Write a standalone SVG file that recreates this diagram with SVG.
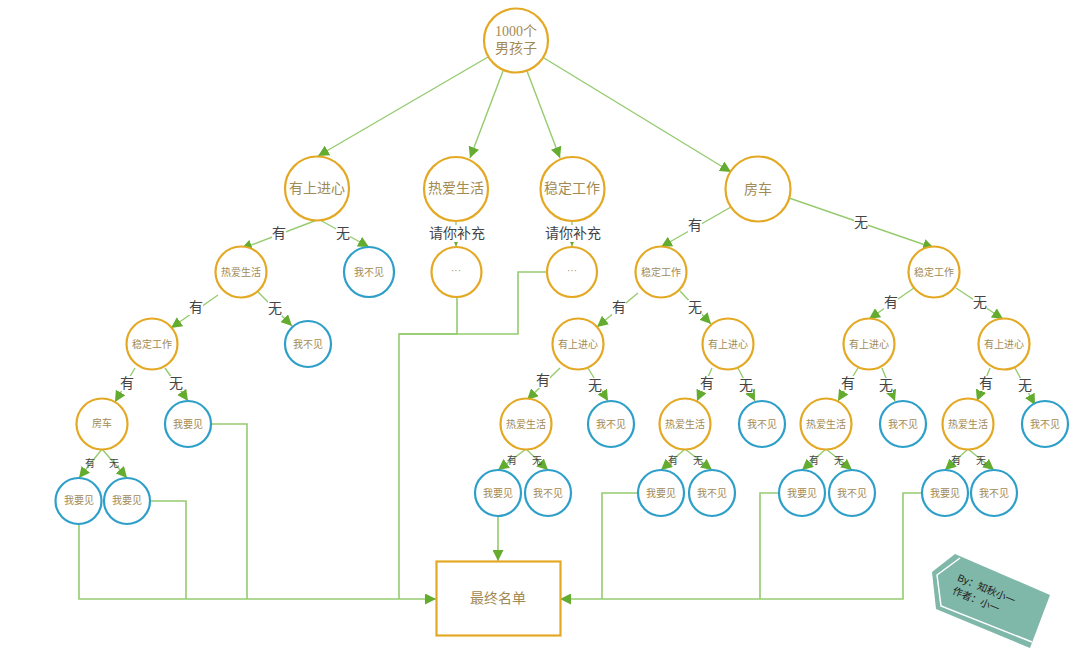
<svg xmlns="http://www.w3.org/2000/svg" width="1080" height="652" viewBox="0 0 1080 652">
<style>
text{font-family:"Liberation Serif","Noto Sans CJK SC",serif;text-anchor:middle;dominant-baseline:central}
.g{fill:#fff;stroke:#E4A924;stroke-width:2.2}
.b{fill:#fff;stroke:#2E9FC9;stroke-width:2.2}
.t{fill:#A28A55}
.s10{font-size:10px}.s14{font-size:14px}.s15{font-size:15px}
.l{font-size:14px;fill:#444}
.m{font-size:10px;fill:#444}
#connectors path{fill:none;stroke:#95CB6F;stroke-width:1.4}
#connectors .a{marker-end:url(#ah)}
#connectors .o{stroke-width:1.6}
</style>
<defs>
<marker id="ah" viewBox="0 0 10 10" refX="10" refY="5" markerWidth="11" markerHeight="11" markerUnits="userSpaceOnUse" orient="auto"><path d="M0 0L10 5L0 10z" fill="#63AC2F"/></marker>
</defs>
<g id="connectors">
<path class="a" d="M488 57L318 156"/>
<path class="a" d="M503 71L470 158"/>
<path class="a" d="M527 71L560 158"/>
<path class="a" d="M544 58L731 172"/>
<path class="a" d="M317 220L241 249"/>
<path class="a" d="M320 220L369 247"/>
<path class="a" d="M456 221V246"/>
<path class="a" d="M572 221V246"/>
<path class="a" d="M731 207L661 247"/>
<path class="a" d="M789 198L934 248"/>
<path class="a" d="M218 295L171 328"/>
<path class="a" d="M258 292L292 326"/>
<path class="a" d="M135 368L115 402"/>
<path class="a" d="M165 368L188 401"/>
<path class="a" d="M102 449L79 478"/>
<path class="a" d="M102 449L127 478"/>
<path class="a" d="M638 293L597 327"/>
<path class="a" d="M680 291L711 324"/>
<path class="a" d="M560 368L527 400"/>
<path class="a" d="M588 368L608 401"/>
<path class="a" d="M526 449L498 470"/>
<path class="a" d="M526 449L548 470"/>
<path class="a" d="M712 368L697 401"/>
<path class="a" d="M738 368L755 401"/>
<path class="a" d="M685 449L661 470"/>
<path class="a" d="M685 449L712 470"/>
<path class="a" d="M914 288L869 319"/>
<path class="a" d="M956 288L1003 319"/>
<path class="a" d="M858 368L838 401"/>
<path class="a" d="M882 368L895 401"/>
<path class="a" d="M826 449L802 470"/>
<path class="a" d="M826 449L852 470"/>
<path class="a" d="M990 368L977 401"/>
<path class="a" d="M1015 368L1035 405"/>
<path class="a" d="M968 449L945 470"/>
<path class="a" d="M968 449L994 470"/>
<path class="o" d="M457 297V334H399V599"/>
<path class="o" d="M547 272H518V334H399"/>
<path class="o" d="M211 424H247V599"/>
<path class="o" d="M150 501H186V599"/>
<path class="o a" d="M79 524V599H436"/>
<path class="o a" d="M498 516V561"/>
<path class="o" d="M638 493H602V599"/>
<path class="o" d="M779 493H760V599"/>
<path class="o a" d="M922 493H903V599H560"/>
</g>
<g id="edge-labels">
<rect x="428" y="225" width="58" height="17" fill="#fff"/><rect x="543" y="225" width="60" height="17" fill="#fff"/>
<rect x="272" y="226" width="14" height="15" fill="#fff"/><rect x="336" y="226" width="14" height="15" fill="#fff"/>
<rect x="688" y="218" width="14" height="15" fill="#fff"/><rect x="854" y="215" width="14" height="15" fill="#fff"/>
<rect x="189" y="300" width="14" height="15" fill="#fff"/><rect x="268" y="301" width="14" height="15" fill="#fff"/>
<rect x="120" y="376" width="14" height="15" fill="#fff"/><rect x="169" y="376" width="14" height="15" fill="#fff"/>
<rect x="612" y="300" width="14" height="15" fill="#fff"/><rect x="688" y="300" width="14" height="15" fill="#fff"/>
<rect x="536" y="373" width="14" height="15" fill="#fff"/><rect x="588" y="378" width="14" height="15" fill="#fff"/>
<rect x="700" y="376" width="14" height="15" fill="#fff"/><rect x="739" y="378" width="14" height="15" fill="#fff"/>
<rect x="884" y="295" width="14" height="15" fill="#fff"/><rect x="973" y="295" width="14" height="15" fill="#fff"/>
<rect x="841" y="376" width="14" height="15" fill="#fff"/><rect x="879" y="378" width="14" height="15" fill="#fff"/>
<rect x="979" y="376" width="14" height="15" fill="#fff"/><rect x="1018" y="378" width="14" height="15" fill="#fff"/>
<text class="l" x="457" y="233">请你补充</text><text class="l" x="573" y="233">请你补充</text>
<text class="l" x="279" y="233">有</text><text class="l" x="343" y="233">无</text>
<text class="l" x="695" y="225">有</text><text class="l" x="861" y="222">无</text>
<text class="l" x="196" y="307">有</text><text class="l" x="275" y="308">无</text>
<text class="l" x="127" y="383">有</text><text class="l" x="176" y="383">无</text>
<text class="l" x="619" y="307">有</text><text class="l" x="695" y="307">无</text>
<text class="l" x="543" y="380">有</text><text class="l" x="595" y="385">无</text>
<text class="l" x="707" y="383">有</text><text class="l" x="746" y="385">无</text>
<text class="l" x="891" y="302">有</text><text class="l" x="980" y="302">无</text>
<text class="l" x="848" y="383">有</text><text class="l" x="886" y="385">无</text>
<text class="l" x="986" y="383">有</text><text class="l" x="1025" y="385">无</text>
<text class="m" x="90" y="463">有</text><text class="m" x="114" y="463">无</text>
<text class="m" x="512" y="460">有</text><text class="m" x="537" y="460">无</text>
<text class="m" x="673" y="460">有</text><text class="m" x="698" y="460">无</text>
<text class="m" x="814" y="460">有</text><text class="m" x="839" y="460">无</text>
<text class="m" x="956" y="460">有</text><text class="m" x="981" y="460">无</text>
</g>
<g id="root"><circle class="g" cx="516" cy="40.500" r="32"/><text class="t s14" x="516" y="31">1000个</text><text class="t s14" x="516" y="48">男孩子</text></g>
<g id="n1"><circle class="g" cx="317" cy="188.500" r="32"/><text class="t s14" x="317" y="188">有上进心</text></g>
<g id="n2"><circle class="g" cx="456" cy="189" r="32"/><text class="t s14" x="456" y="188">热爱生活</text></g>
<g id="n3"><circle class="g" cx="572.500" cy="189" r="32"/><text class="t s14" x="572" y="188">稳定工作</text></g>
<g id="n4"><circle class="g" cx="758" cy="189" r="32.500"/><text class="t s14" x="758" y="189">房车</text></g>
<g id="n5"><circle class="g" cx="241" cy="272" r="25.500"/><text class="t s10" x="241" y="272">热爱生活</text></g>
<g id="n6"><circle class="b" cx="369" cy="272" r="25"/><text class="t s10" x="369" y="272">我不见</text></g>
<g id="n7"><circle class="g" cx="152" cy="344" r="25.500"/><text class="t s10" x="152" y="344">稳定工作</text></g>
<g id="n8"><circle class="b" cx="308" cy="344" r="23"/><text class="t s10" x="308" y="344">我不见</text></g>
<g id="n9"><circle class="g" cx="102" cy="424" r="25.500"/><text class="t s10" x="102" y="423">房车</text></g>
<g id="n10"><circle class="b" cx="188" cy="424" r="23"/><text class="t s10" x="188" y="424">我要见</text></g>
<g id="n11"><circle class="b" cx="78.500" cy="501" r="23"/><text class="t s10" x="79" y="500">我要见</text></g>
<g id="n12"><circle class="b" cx="127" cy="501" r="23"/><text class="t s10" x="127" y="500">我要见</text></g>
<g id="n13"><circle class="g" cx="456.500" cy="272" r="25"/><text class="t s10" x="456" y="270">···</text></g>
<g id="n14"><circle class="g" cx="572" cy="272" r="25"/><text class="t s10" x="572" y="270">···</text></g>
<g id="n15"><circle class="g" cx="661" cy="272" r="25.500"/><text class="t s10" x="661" y="272">稳定工作</text></g>
<g id="n16"><circle class="g" cx="934" cy="272" r="25.500"/><text class="t s10" x="934" y="272">稳定工作</text></g>
<g id="n17"><circle class="g" cx="578" cy="344" r="25.500"/><text class="t s10" x="578" y="344">有上进心</text></g>
<g id="n18"><circle class="g" cx="728" cy="344" r="25.500"/><text class="t s10" x="728" y="344">有上进心</text></g>
<g id="n19"><circle class="g" cx="869" cy="344" r="25.500"/><text class="t s10" x="869" y="344">有上进心</text></g>
<g id="n20"><circle class="g" cx="1004" cy="344" r="25.500"/><text class="t s10" x="1004" y="344">有上进心</text></g>
<g id="n21"><circle class="g" cx="526" cy="424" r="25.500"/><text class="t s10" x="526" y="424">热爱生活</text></g>
<g id="n22"><circle class="b" cx="611" cy="424" r="23"/><text class="t s10" x="611" y="424">我不见</text></g>
<g id="n23"><circle class="g" cx="685" cy="424" r="25.500"/><text class="t s10" x="685" y="424">热爱生活</text></g>
<g id="n24"><circle class="b" cx="762" cy="424" r="23"/><text class="t s10" x="762" y="424">我不见</text></g>
<g id="n25"><circle class="g" cx="826" cy="424" r="25.500"/><text class="t s10" x="826" y="424">热爱生活</text></g>
<g id="n26"><circle class="b" cx="903" cy="424" r="23"/><text class="t s10" x="903" y="424">我不见</text></g>
<g id="n27"><circle class="g" cx="968" cy="424" r="25.500"/><text class="t s10" x="968" y="424">热爱生活</text></g>
<g id="n28"><circle class="b" cx="1045" cy="424" r="23"/><text class="t s10" x="1045" y="424">我不见</text></g>
<g id="n29"><circle class="b" cx="498" cy="493" r="23"/><text class="t s10" x="498" y="493">我要见</text></g>
<g id="n30"><circle class="b" cx="548" cy="493" r="23"/><text class="t s10" x="548" y="493">我不见</text></g>
<g id="n31"><circle class="b" cx="661" cy="493" r="23"/><text class="t s10" x="661" y="493">我要见</text></g>
<g id="n32"><circle class="b" cx="712" cy="493" r="23"/><text class="t s10" x="712" y="493">我不见</text></g>
<g id="n33"><circle class="b" cx="802" cy="493" r="23"/><text class="t s10" x="802" y="493">我要见</text></g>
<g id="n34"><circle class="b" cx="852" cy="493" r="23"/><text class="t s10" x="852" y="493">我不见</text></g>
<g id="n35"><circle class="b" cx="945" cy="493" r="23"/><text class="t s10" x="945" y="493">我要见</text></g>
<g id="n36"><circle class="b" cx="994" cy="493" r="23"/><text class="t s10" x="994" y="493">我不见</text></g>
<g id="result"><rect x="436.500" y="561.500" width="124" height="74" fill="#fff" stroke="#E4A924" stroke-width="2.200"/><text class="t s14" x="498" y="598">最终名单</text></g>
<g id="tag">
<polygon points="932,572 955,554 1050,595 1030,648 936,609" fill="#7FB7A8"/>
<polyline points="960,558 937,575 941,606 1032,642" fill="none" stroke="#fff" stroke-width="1.500"/>
<text transform="translate(958,577) rotate(23)" font-size="10" fill="#222" style="text-anchor:start;font-family:'Liberation Sans','Noto Sans CJK SC',sans-serif">By：知秋小一</text>
<text transform="translate(953,590) rotate(23)" font-size="10" fill="#222" style="text-anchor:start;font-family:'Liberation Sans','Noto Sans CJK SC',sans-serif">作者：小一</text>
</g>
</svg>
